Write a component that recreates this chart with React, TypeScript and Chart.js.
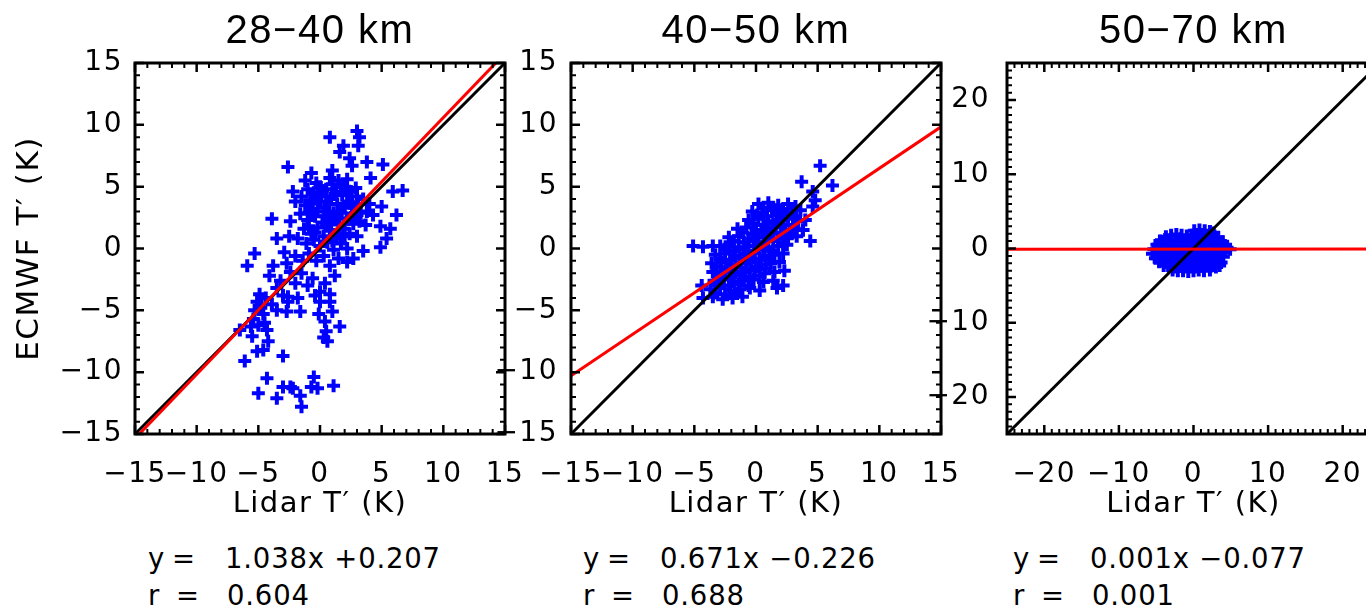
import React, { useEffect, useRef } from 'react';
import { Chart, registerables } from 'chart.js';

Chart.register(...registerables);

type Pt = [number, number];

// ---------------- data ----------------
const panelTitles = ['28\u221240 km', '40\u221250 km', '50\u221270 km'];
const xAxisTitle = 'Lidar T\u2032 (K)';
const yAxisTitle = 'ECMWF T\u2032 (K)';
const axisLimits = [15, 15, 25];
const majorSteps = [5, 5, 10];
const tickLabelsNarrow = [-15, -10, -5, 0, 5, 10, 15];
const tickLabelsWide = [-20, -10, 0, 10, 20];
const fitSlopes = [1.038, 0.671, 0.001];
const fitIntercepts = [0.207, -0.226, -0.077];
const corrCoefs = [0.604, 0.688, 0.001];

const scatter2840: Pt[] = [
  [0.8, 9.0], [3.0, 9.5], [3.2, 9.0], [3.1, 8.3], [1.9, 8.3], [1.6, 7.8], [2.4, 7.3], [2.6, 6.7], [3.8, 7.0], [5.1, 6.8],
  [-2.6, 6.6], [-0.7, 6.1], [1.0, 6.3], [4.1, 5.7], [-1.2, 5.5], [-0.3, 5.3], [6.7, 4.7], [5.9, 4.6], [-2.2, 4.6], [-2.0, 3.8],
  [5.0, 3.4], [6.2, 2.7], [-3.9, 2.4], [-2.4, 2.2], [4.9, 1.8], [5.7, 1.6], [5.4, 0.8], [3.0, 1.0], [-3.5, 0.8], [4.9, 0.1],
  [3.5, -0.2], [2.7, -0.8], [-5.3, -0.4], [-5.9, -1.4], [-3.8, -1.4], [-4.1, -2.2], [-2.4, -1.9], [-0.6, -2.4], [0.8, -1.4], [2.2, -1.1],
  [0.0, -3.5], [-4.9, -3.7], [0.8, -3.7],
  [-1.5, 4.2], [-1.0, 4.8], [-0.5, 4.5], [0.0, 5.0], [0.5, 4.8], [1.0, 5.2], [1.5, 5.5], [2.0, 5.0], [2.5, 4.6], [3.0, 4.2], [3.5, 4.0], [4.0, 3.6],
  [-1.2, 3.5], [-0.6, 3.2], [0.0, 3.8], [0.4, 3.3], [0.9, 4.0], [1.4, 3.6], [1.8, 4.3], [2.3, 3.8], [2.8, 3.3], [3.3, 2.9], [3.8, 3.0], [4.3, 2.7],
  [-1.6, 2.8], [-1.0, 2.3], [-0.4, 2.6], [0.2, 2.1], [0.7, 2.7], [1.2, 2.3], [1.7, 2.9], [2.2, 2.4], [2.7, 2.0], [3.2, 2.2], [3.7, 1.9],
  [-1.3, 1.6], [-0.7, 1.2], [-0.2, 1.7], [0.3, 1.0], [0.8, 1.5], [1.3, 1.0], [1.9, 1.6], [2.4, 1.2],
  [-1.8, 0.8], [-1.1, 0.4], [-0.5, 0.7], [0.0, 0.2], [0.6, 0.5], [1.1, -0.1], [1.7, 0.4], [2.2, 0.0],
  [-2.5, 1.0], [-2.9, -0.3], [-2.0, -0.6], [-1.4, -1.0], [-0.9, -0.4], [-0.3, -1.0], [0.3, -0.6], [1.5, -0.8],
  [-2.7, -1.2], [-3.2, -2.6], [-2.0, -2.8], [-1.5, -2.0], [-1.0, -3.0], [-0.4, -3.8], [0.4, -2.8], [1.2, -2.2],
  [-3.5, -3.2], [-2.6, -3.9], [-1.8, -4.0],
  [0.6, 3.0], [1.1, 2.9], [1.5, 2.0], [0.5, 4.2], [2.0, 3.3], [2.6, 2.8], [1.0, 0.6], [0.1, 4.4], [2.9, 4.9], [1.3, 4.6],
  [-0.8, 3.9], [-0.3, 4.0], [0.7, 3.6], [1.2, 4.4], [1.7, 5.0], [2.2, 4.4], [2.6, 3.6], [3.1, 3.6], [-0.9, 2.9], [-0.2, 3.0],
  [0.4, 2.6], [0.9, 2.0], [1.4, 2.6], [2.0, 2.0], [2.5, 2.5], [3.0, 2.7], [-0.9, 1.8], [-0.4, 1.3], [0.5, 1.8], [1.6, 1.2],
  [2.0, 1.0], [-0.6, 3.7], [0.2, 4.7], [0.8, 5.7], [2.2, 5.6],
  [-5.1, -4.3], [-4.6, -5.3], [-5.4, -5.7], [-5.0, -6.2], [-4.8, -4.8], [-5.3, -5.0], [-4.5, -6.0], [-5.6, -6.3], [-6.5, -6.6], [-5.5, -7.1],
  [-4.3, -6.6], [-4.2, -7.5], [-5.1, -8.3], [-4.6, -8.2], [-6.1, -9.1], [-3.0, -8.7], [-3.5, -5.0], [-2.7, -5.1], [-1.6, -5.1], [-2.6, -4.3],
  [0.0, -4.3], [0.8, -4.3], [-0.1, -5.3], [1.0, -5.1], [0.4, -5.9], [1.6, -6.3], [0.5, -6.7], [0.3, -7.2], [0.6, -7.5],
  [-4.3, -10.5], [-0.5, -10.4], [-0.7, -11.2], [-0.2, -11.3], [1.1, -11.1], [-5.0, -11.7], [-3.0, -11.2], [-2.4, -11.2], [-2.2, -11.3],
  [-3.5, -12.1], [-1.6, -11.9], [-1.5, -12.8],
  [-4.4, -4.0], [-3.9, -4.5], [-3.0, -3.8],
];

const scatter4050: Pt[] = [
  [5.2, 6.7], [3.7, 5.4], [6.2, 5.1], [4.6, 4.6], [4.8, 3.9], [4.6, 3.4], [-5.1, 0.2], [-4.3, 0.15], [-3.5, 0.2], [-2.1, 0.5],
  [4.4, 0.6], [3.8, 1.5], [-3.5, -1.9], [-4.4, -3.0], [2.2, -3.0], [1.7, -3.2],
  [0.2, 3.6], [1.0, 3.7], [1.8, 3.5], [2.6, 3.6], [3.2, 3.4], [0.6, 3.3], [1.4, 3.3], [2.2, 3.2],
  [-0.3, 3.0], [0.5, 2.9], [1.3, 3.1], [2.1, 3.0], [2.9, 2.9], [3.6, 3.1], [0.1, 2.7], [0.9, 2.6], [1.7, 2.7], [2.5, 2.6], [3.2, 2.6],
  [-0.6, 2.3], [0.2, 2.4], [1.0, 2.2], [1.8, 2.3], [2.6, 2.4], [3.4, 2.2], [4.0, 2.3], [-0.2, 2.0], [0.6, 1.9], [1.4, 2.0], [2.2, 1.9], [3.0, 1.9],
  [-1.5, 1.6], [-0.8, 1.7], [0.0, 1.5], [0.8, 1.6], [1.6, 1.7], [2.4, 1.5], [3.1, 1.6], [3.8, 1.5], [-1.1, 1.3], [-0.3, 1.2], [0.5, 1.3], [1.3, 1.2], [2.1, 1.3], [2.9, 1.2],
  [-2.2, 0.9], [-1.4, 1.0], [-0.6, 0.8], [0.2, 0.9], [1.0, 1.0], [1.8, 0.8], [2.6, 0.9], [3.3, 1.0], [-1.8, 0.6], [-1.0, 0.5], [-0.2, 0.6], [0.6, 0.5], [1.4, 0.6], [2.2, 0.5],
  [-2.9, 0.2], [-2.2, 0.3], [-1.4, 0.1], [-0.6, 0.2], [0.2, 0.3], [1.0, 0.1], [1.8, 0.2], [2.5, 0.3], [-2.5, -0.1], [-1.8, -0.2], [-1.0, -0.1], [-0.2, -0.2], [0.6, -0.1], [1.4, -0.2],
  [-3.3, -0.5], [-2.5, -0.4], [-1.7, -0.6], [-0.9, -0.5], [-0.1, -0.4], [0.7, -0.6], [1.5, -0.5], [2.2, -0.4], [-2.9, -0.8], [-2.1, -0.9], [-1.3, -0.8], [-0.5, -0.9], [0.3, -0.8], [1.1, -0.9],
  [-3.6, -1.2], [-2.8, -1.1], [-2.0, -1.3], [-1.2, -1.2], [-0.4, -1.1], [0.4, -1.3], [1.2, -1.2], [1.9, -1.1], [-3.2, -1.5], [-2.4, -1.6], [-1.6, -1.5], [-0.8, -1.6], [0.0, -1.5], [0.8, -1.6],
  [-3.3, -1.9], [-2.5, -1.8], [-1.7, -2.0], [-0.9, -1.9], [-0.1, -1.8], [0.7, -2.0], [1.5, -1.9], [2.3, -1.8], [-2.9, -2.2], [-2.1, -2.3], [-1.3, -2.2], [-0.5, -2.3], [0.3, -2.2],
  [-3.4, -2.6], [-2.6, -2.5], [-1.8, -2.7], [-1.0, -2.6], [-0.2, -2.5], [0.6, -2.7], [1.4, -2.6], [-3.0, -2.9], [-2.2, -3.0], [-1.4, -2.9], [-0.6, -3.0],
  [-3.7, -3.3], [-2.9, -3.2], [-2.1, -3.4], [-1.3, -3.3], [-0.5, -3.2], [0.3, -3.4], [-3.3, -3.6], [-2.5, -3.7], [-1.7, -3.6],
  [-4.3, -4.0], [-3.5, -3.9], [-2.7, -4.1], [-1.9, -4.0], [-1.1, -3.9],
];

const scatter5070: Pt[] = [
  [0.1, 2.4], [0.8, 2.5], [1.5, 2.4], [2.2, 2.3], [2.7, 2.1],
  [-3.7, 1.6], [-3.0, 1.8], [-2.3, 1.9], [-1.6, 1.8], [-0.9, 1.7], [-0.2, 1.8], [0.5, 1.9], [1.2, 1.8], [1.9, 1.7], [2.6, 1.8], [3.3, 1.5],
  [-4.5, 1.0], [-3.8, 1.2], [-3.1, 1.1], [-2.4, 1.2], [-1.7, 1.3], [-1.0, 1.1], [-0.3, 1.2], [0.4, 1.3], [1.1, 1.1], [1.8, 1.2], [2.5, 1.2], [3.2, 1.1], [3.9, 0.9],
  [-4.9, 0.5], [-4.2, 0.6], [-3.5, 0.7], [-2.8, 0.6], [-2.1, 0.5], [-1.4, 0.6], [-0.7, 0.7], [0.0, 0.6], [0.7, 0.5], [1.4, 0.6], [2.1, 0.7], [2.8, 0.6], [3.5, 0.5], [4.2, 0.4],
  [-5.3, -0.1], [-4.6, 0.0], [-3.9, 0.1], [-3.2, 0.0], [-2.5, -0.1], [-1.8, 0.0], [-1.1, 0.1], [-0.4, 0.0], [0.3, -0.1], [1.0, 0.0], [1.7, 0.1], [2.4, 0.0], [3.1, -0.1], [3.8, 0.0], [4.5, 0.1], [4.9, -0.1],
  [-5.5, -0.7], [-4.8, -0.6], [-4.1, -0.5], [-3.4, -0.6], [-2.7, -0.7], [-2.0, -0.6], [-1.3, -0.5], [-0.6, -0.6], [0.1, -0.7], [0.8, -0.6], [1.5, -0.5], [2.2, -0.6], [2.9, -0.7], [3.6, -0.6], [4.3, -0.4],
  [-5.1, -1.3], [-4.4, -1.2], [-3.7, -1.1], [-3.0, -1.2], [-2.3, -1.3], [-1.6, -1.2], [-0.9, -1.1], [-0.2, -1.2], [0.5, -1.3], [1.2, -1.2], [1.9, -1.1], [2.6, -1.2], [3.3, -1.3], [4.0, -1.1],
  [-4.6, -1.8], [-3.9, -1.9], [-3.2, -1.8], [-2.5, -1.7], [-1.8, -1.8], [-1.1, -1.9], [-0.4, -1.8], [0.3, -1.7], [1.0, -1.8], [1.7, -1.9], [2.4, -1.8], [3.1, -1.7], [3.7, -1.9],
  [-4.0, -2.3], [-3.3, -2.4], [-2.6, -2.5], [-1.9, -2.4], [-1.2, -2.3], [-0.5, -2.4], [0.2, -2.5], [0.9, -2.4], [1.6, -2.3], [2.3, -2.4], [3.0, -2.5], [3.5, -2.3],
  [-2.8, -2.9], [-2.1, -3.0], [-1.4, -3.0], [-0.7, -3.1], [0.0, -3.0], [0.7, -2.9], [1.4, -3.0], [2.2, -2.9],
];

const scatterSets: Pt[][] = [scatter2840, scatter4050, scatter5070];

// ---------------- layout / style ----------------
const FONT = '"DejaVu Sans", "Liberation Sans", Arial, sans-serif';
const TITLE_FONT = '"Liberation Sans", Arial, Helvetica, sans-serif';
const LETTER_SPACING = '1.5px';
const CANVAS_H = 530;
const PLOT_BOTTOM = 434;
const PANEL_LAYOUT = [
  { left: 0, width: 530, yAxisWidth: 135, padRight: 25, yTickPad: 4, eqLeft: 148 },
  { left: 480, width: 490, yAxisWidth: 91, padRight: 29, yTickPad: 5, eqLeft: 583 },
  { left: 920, width: 480, yAxisWidth: 87, padRight: 20, yTickPad: 9, eqLeft: 1013 },
];

function fmtTick(v: number): string {
  return v < 0 ? '\u2212' + Math.abs(v) : String(v);
}

function fmtEq(a: number, b: number): string {
  return a.toFixed(3) + 'x ' + (b < 0 ? '\u2212' : '+') + Math.abs(b).toFixed(3);
}

function makeFramePlugin(major: number) {
  const isMajor = (v: number) => Math.abs(v / major - Math.round(v / major)) < 1e-6;
  return {
    id: 'frameTicks',
    beforeLayout(chart: any) {
      chart.ctx.letterSpacing = LETTER_SPACING;
    },
    beforeDraw(chart: any) {
      chart.ctx.letterSpacing = LETTER_SPACING;
    },
    afterDraw(chart: any) {
      const ctx = chart.ctx;
      const a = chart.chartArea;
      const xs = chart.scales.x;
      const ys = chart.scales.y;
      ctx.save();
      ctx.globalAlpha = 1;
      ctx.setLineDash([]);
      ctx.strokeStyle = '#000000';
      ctx.lineCap = 'butt';
      const xmin = Math.ceil(xs.min);
      const xmax = Math.floor(xs.max);
      for (let v = xmin; v <= xmax; v++) {
        const p = xs.getPixelForValue(v);
        const mj = isMajor(v);
        const len = mj ? 9 : 5;
        ctx.lineWidth = mj ? 2.5 : 2;
        ctx.beginPath();
        ctx.moveTo(p, a.bottom);
        ctx.lineTo(p, a.bottom - len);
        ctx.moveTo(p, a.top);
        ctx.lineTo(p, a.top + len);
        ctx.stroke();
      }
      const ymin = Math.ceil(ys.min);
      const ymax = Math.floor(ys.max);
      for (let v = ymin; v <= ymax; v++) {
        const p = ys.getPixelForValue(v);
        const mj = isMajor(v);
        const len = mj ? 9 : 5;
        ctx.lineWidth = mj ? 2.5 : 2;
        ctx.beginPath();
        ctx.moveTo(a.left, p);
        ctx.lineTo(a.left + len, p);
        ctx.moveTo(a.right, p);
        ctx.lineTo(a.right - len, p);
        ctx.stroke();
      }
      ctx.lineWidth = 3;
      ctx.strokeRect(a.left, a.top, a.right - a.left, a.bottom - a.top);
      ctx.restore();
    },
  };
}

function makeConfig(i: number): any {
  const lim = axisLimits[i];
  const major = majorSteps[i];
  const labels = lim === 25 ? tickLabelsWide : tickLabelsNarrow;
  const L = PANEL_LAYOUT[i];
  const a = fitSlopes[i];
  const b = fitIntercepts[i];
  const pts = scatterSets[i].map(([x, y]) => ({ x, y }));
  const tickFont = { family: FONT, size: 28, lineHeight: 1 };
  const cb = (v: any) => {
    const n = Number(v);
    return labels.indexOf(Math.round(n)) >= 0 && Math.abs(n - Math.round(n)) < 1e-6 ? fmtTick(Math.round(n)) : '';
  };
  return {
    type: 'scatter',
    data: {
      datasets: [
        {
          label: 'fit',
          data: [{ x: -lim, y: a * -lim + b }, { x: lim, y: a * lim + b }],
          showLine: true,
          borderColor: '#ff0000',
          borderWidth: 3,
          pointRadius: 0,
          clip: 0,
        },
        {
          label: '1:1',
          data: [{ x: -lim, y: -lim }, { x: lim, y: lim }],
          showLine: true,
          borderColor: '#000000',
          borderWidth: 3,
          pointRadius: 0,
          clip: 0,
        },
        {
          label: 'points',
          data: pts,
          showLine: false,
          pointStyle: 'cross',
          pointRadius: 6.5,
          pointBorderWidth: 4,
          pointBorderColor: '#0000ff',
          pointBackgroundColor: '#0000ff',
          borderColor: '#0000ff',
          backgroundColor: '#0000ff',
          clip: 0,
        },
      ],
    },
    options: {
      responsive: false,
      maintainAspectRatio: false,
      animation: false,
      events: [],
      layout: { padding: { left: 0, top: 0, right: L.padRight, bottom: 0 } },
      plugins: {
        legend: { display: false },
        tooltip: { enabled: false },
        title: {
          display: true,
          text: panelTitles[i],
          fullSize: false,
          color: '#000',
          font: { family: TITLE_FONT, size: 40, weight: 'normal', lineHeight: 1 },
          padding: { top: 11.5, bottom: 11.5 },
        },
      },
      scales: {
        x: {
          type: 'linear',
          position: 'bottom',
          min: -lim,
          max: lim,
          grid: { display: false },
          border: { display: false },
          ticks: {
            stepSize: 1,
            autoSkip: false,
            maxRotation: 0,
            minRotation: 0,
            padding: 19,
            color: '#000',
            font: tickFont,
            callback: cb,
          },
          title: {
            display: true,
            text: xAxisTitle,
            color: '#000',
            font: { family: FONT, size: 29, lineHeight: 1 },
            padding: { top: 0, bottom: 11 },
          },
          afterFit: (s: any) => {
            s.height = CANVAS_H - PLOT_BOTTOM;
            s.paddingLeft = 0;
            s.paddingRight = 0;
          },
        },
        y: {
          type: 'linear',
          position: 'left',
          min: -lim,
          max: lim,
          grid: { display: false },
          border: { display: false },
          ticks: {
            stepSize: 1,
            autoSkip: false,
            padding: L.yTickPad,
            color: '#000',
            font: tickFont,
            callback: cb,
          },
          title: {
            display: i === 0,
            text: yAxisTitle,
            color: '#000',
            font: { family: FONT, size: 31, lineHeight: 1 },
            padding: { top: 14, bottom: 0 },
          },
          afterFit: (s: any) => {
            s.width = L.yAxisWidth;
            s.paddingTop = 0;
            s.paddingBottom = 0;
          },
        },
      },
    },
    plugins: [makeFramePlugin(major)],
  };
}

function Panel({ index }: { index: number }) {
  const ref = useRef<HTMLCanvasElement | null>(null);
  const L = PANEL_LAYOUT[index];
  useEffect(() => {
    if (!ref.current) return;
    const chart = new Chart(ref.current, makeConfig(index));
    return () => chart.destroy();
  }, [index]);
  return (
    <canvas
      ref={ref}
      width={L.width}
      height={CANVAS_H}
      style={{ position: 'absolute', left: L.left, top: 0, width: L.width, height: CANVAS_H }}
    />
  );
}

function Equation({ index }: { index: number }) {
  const L = PANEL_LAYOUT[index];
  const base: React.CSSProperties = {
    position: 'absolute',
    left: L.eqLeft,
    fontFamily: FONT,
    fontSize: 27.5,
    lineHeight: '27.5px',
    letterSpacing: '0.8px',
    whiteSpace: 'pre',
    color: '#000',
  };
  return (
    <>
      <div style={{ ...base, top: 544.5 }}>
        <span>y</span>
        <span style={{ position: 'absolute', left: 24 }}>=</span>
        <span style={{ position: 'absolute', left: 77 }}>{fmtEq(fitSlopes[index], fitIntercepts[index])}</span>
      </div>
      <div style={{ ...base, top: 581.8 }}>
        <span>r</span>
        <span style={{ position: 'absolute', left: 28 }}>=</span>
        <span style={{ position: 'absolute', left: 79 }}>{corrCoefs[index].toFixed(3)}</span>
      </div>
    </>
  );
}

export default function App() {
  return (
    <div
      style={{
        position: 'fixed',
        left: 0,
        top: 0,
        width: 1366,
        height: 610,
        overflow: 'hidden',
        background: '#ffffff',
      }}
    >
      {[0, 1, 2].map((i) => (
        <Panel key={'p' + i} index={i} />
      ))}
      {[0, 1, 2].map((i) => (
        <Equation key={'e' + i} index={i} />
      ))}
    </div>
  );
}
